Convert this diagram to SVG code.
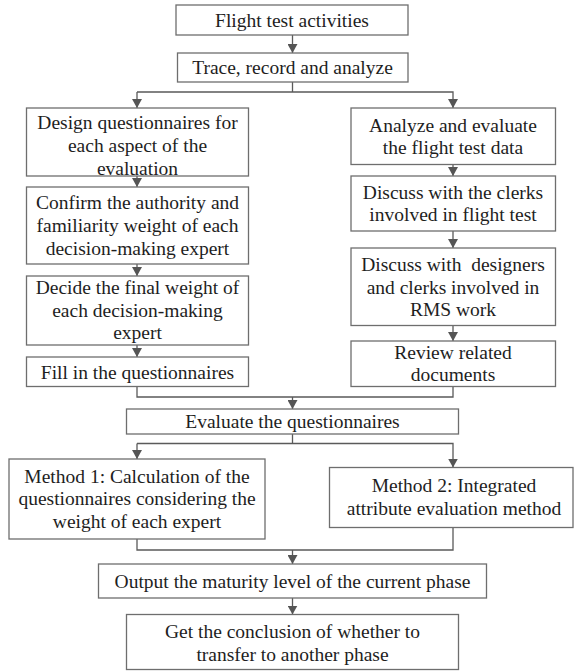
<svg xmlns="http://www.w3.org/2000/svg" width="575" height="671" viewBox="0 0 575 671">
  <style>
    .box { fill: #ffffff; stroke: #6e6e6e; stroke-width: 1.3; }
    .lbl { font-family: "Liberation Serif", "Times New Roman", serif; font-size: 19.5px; fill: #1e1e1e; text-anchor: middle; }
    .wire { fill: none; stroke: #5a5a5a; stroke-width: 1.3; }
  </style>
  <defs>
    <marker id="arrow" viewBox="0 0 9 10" markerWidth="9" markerHeight="10" refX="9" refY="5" orient="auto" markerUnits="userSpaceOnUse">
      <path d="M0,0 L9,5 L0,10 z" fill="#555555"/>
    </marker>
  </defs>
  <rect width="575" height="671" fill="#ffffff"/>

  <!-- connectors -->
  <g id="connectors" class="wire">
    <line x1="292.5" y1="35" x2="292.5" y2="53" marker-end="url(#arrow)"/>
    <!-- split into the two branches -->
    <polyline points="292.5,82 292.5,92"/>
    <polyline points="137,92 453,92 453,108" marker-end="url(#arrow)"/>
    <line x1="137" y1="92" x2="137" y2="108" marker-end="url(#arrow)"/>
    <!-- left branch -->
    <line x1="137" y1="176" x2="137" y2="187" marker-end="url(#arrow)"/>
    <line x1="137" y1="264" x2="137" y2="276" marker-end="url(#arrow)"/>
    <line x1="137" y1="345" x2="137" y2="357" marker-end="url(#arrow)"/>
    <!-- right branch -->
    <line x1="453" y1="164.5" x2="453" y2="176" marker-end="url(#arrow)"/>
    <line x1="453" y1="231" x2="453" y2="248" marker-end="url(#arrow)"/>
    <line x1="453" y1="325.5" x2="453" y2="341" marker-end="url(#arrow)"/>
    <!-- merge into evaluation -->
    <polyline points="137,386.5 137,397 453,397 453,386.5"/>
    <line x1="292.5" y1="397" x2="292.5" y2="409" marker-end="url(#arrow)"/>
    <!-- split into the two methods -->
    <polyline points="292.5,434 292.5,443.5"/>
    <polyline points="137,443.5 453,443.5 453,467.5" marker-end="url(#arrow)"/>
    <line x1="137" y1="443.5" x2="137" y2="459" marker-end="url(#arrow)"/>
    <!-- merge into output -->
    <polyline points="137,539 137,550 453,550 453,527.5"/>
    <line x1="292.5" y1="550" x2="292.5" y2="564" marker-end="url(#arrow)"/>
    <line x1="292.5" y1="598" x2="292.5" y2="614.5" marker-end="url(#arrow)"/>
  </g>

  <g id="flight-test-activities">
    <rect class="box" x="176" y="5" width="232" height="30"/>
    <text class="lbl" x="292" y="26.5">Flight test activities</text>
  </g>
  <g id="trace-record-analyze">
    <rect class="box" x="177.5" y="53" width="230.5" height="29"/>
    <text class="lbl" x="292.5" y="74">Trace, record and analyze</text>
  </g>

  <!-- left branch -->
  <g id="design-questionnaires">
    <rect class="box" x="26.5" y="108" width="222" height="68"/>
    <text class="lbl" x="137.5" y="128.5">Design questionnaires for</text>
    <text class="lbl" x="137.5" y="152">each aspect of the</text>
    <text class="lbl" x="137.5" y="175">evaluation</text>
  </g>
  <g id="confirm-authority">
    <rect class="box" x="26.5" y="187" width="222" height="77"/>
    <text class="lbl" x="137.5" y="208.5">Confirm the authority and</text>
    <text class="lbl" x="137.5" y="232">familiarity weight of each</text>
    <text class="lbl" x="137.5" y="255">decision-making expert</text>
  </g>
  <g id="decide-final-weight">
    <rect class="box" x="26.5" y="276" width="222" height="69"/>
    <text class="lbl" x="137.5" y="293.5">Decide the final weight of</text>
    <text class="lbl" x="137.5" y="316.5">each decision-making</text>
    <text class="lbl" x="137.5" y="338.5">expert</text>
  </g>
  <g id="fill-questionnaires">
    <rect class="box" x="26.5" y="357" width="222" height="29.5"/>
    <text class="lbl" x="137.5" y="378.5">Fill in the questionnaires</text>
  </g>

  <!-- right branch -->
  <g id="analyze-flight-data">
    <rect class="box" x="351" y="108" width="204.5" height="56.5"/>
    <text class="lbl" x="453" y="131.5">Analyze and evaluate</text>
    <text class="lbl" x="453" y="154">the flight test data</text>
  </g>
  <g id="discuss-clerks">
    <rect class="box" x="351" y="176" width="204.5" height="55"/>
    <text class="lbl" x="453" y="198.5">Discuss with the clerks</text>
    <text class="lbl" x="453" y="221">involved in flight test</text>
  </g>
  <g id="discuss-designers">
    <rect class="box" x="351" y="248" width="204.5" height="77.5"/>
    <text class="lbl" x="453" y="271" xml:space="preserve">Discuss with  designers</text>
    <text class="lbl" x="453" y="293.5">and clerks involved in</text>
    <text class="lbl" x="453" y="316">RMS work</text>
  </g>
  <g id="review-documents">
    <rect class="box" x="351" y="341" width="204.5" height="45.5"/>
    <text class="lbl" x="453" y="358.5">Review related</text>
    <text class="lbl" x="453" y="380.5">documents</text>
  </g>

  <g id="evaluate-questionnaires">
    <rect class="box" x="126.5" y="409" width="332" height="25"/>
    <text class="lbl" x="292.5" y="428">Evaluate the questionnaires</text>
  </g>

  <g id="method-1">
    <rect class="box" x="9" y="459" width="256" height="80"/>
    <text class="lbl" x="137" y="482.5">Method 1: Calculation of the</text>
    <text class="lbl" x="137" y="505">questionnaires considering the</text>
    <text class="lbl" x="137" y="527.5">weight of each expert</text>
  </g>
  <g id="method-2">
    <rect class="box" x="329.5" y="467.5" width="243.5" height="60"/>
    <text class="lbl" x="454" y="492">Method 2: Integrated</text>
    <text class="lbl" x="454" y="515">attribute evaluation method</text>
  </g>

  <g id="output-maturity">
    <rect class="box" x="98.5" y="564" width="388" height="34"/>
    <text class="lbl" x="292.5" y="588">Output the maturity level of the current phase</text>
  </g>
  <g id="conclusion">
    <rect class="box" x="126.5" y="614.5" width="332" height="55"/>
    <text class="lbl" x="292.5" y="638">Get the conclusion of whether to</text>
    <text class="lbl" x="292.5" y="661">transfer to another phase</text>
  </g>
</svg>
